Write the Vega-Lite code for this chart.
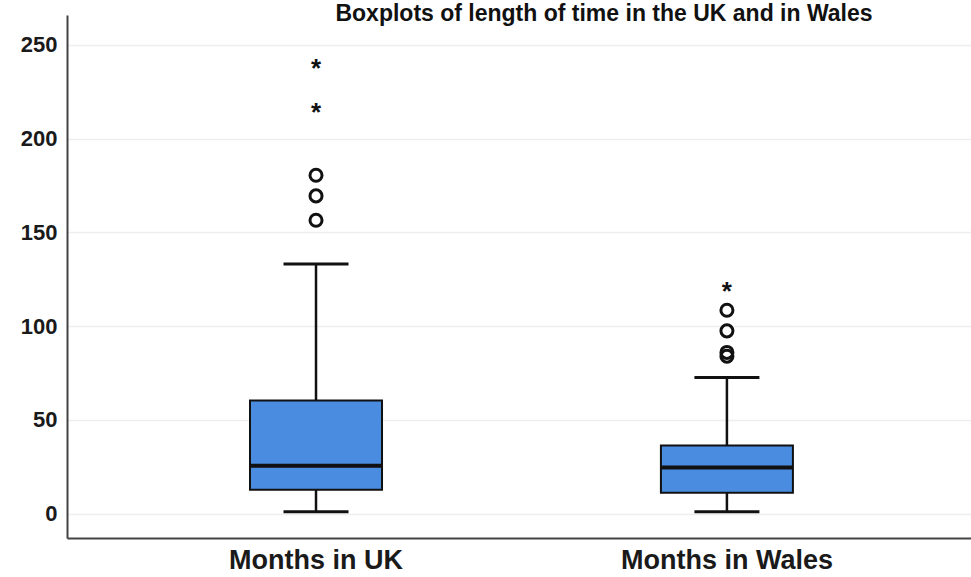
{
  "$schema": "https://vega.github.io/schema/vega-lite/v6.json",
  "width": 904,
  "height": 523,
  "autosize": {"type": "none"},
  "padding": {"left": 67, "top": 15, "right": 0, "bottom": 39},
  "background": "white",
  "title": {
    "text": "Boxplots of length of time in the UK and in Wales",
    "font": "Liberation Sans",
    "fontSize": 23,
    "fontWeight": "bold",
    "color": "#111111",
    "anchor": "middle",
    "offset": -11,
    "dx": 85
  },
  "config": {
    "view": {"stroke": null},
    "axis": {
      "labelFont": "Liberation Sans",
      "labelFontWeight": "bold",
      "labelColor": "#1a1a1a",
      "labelLimit": 0,
      "domainColor": "#444444",
      "domainWidth": 2,
      "ticks": false,
      "title": null
    }
  },
  "datasets": {
    "summary": [
      {"group": "Months in UK", "low": 1, "q1": 12.8, "median": 25.6, "q3": 60.4, "high": 133.2},
      {"group": "Months in Wales", "low": 1, "q1": 11.2, "median": 24.6, "q3": 36.3, "high": 72.6}
    ],
    "outliers": [
      {"group": "Months in UK", "value": 156.5, "kind": "outlier"},
      {"group": "Months in UK", "value": 169.5, "kind": "outlier"},
      {"group": "Months in UK", "value": 180.5, "kind": "outlier"},
      {"group": "Months in UK", "value": 217, "kind": "extreme"},
      {"group": "Months in UK", "value": 240.5, "kind": "extreme"},
      {"group": "Months in Wales", "value": 84, "kind": "outlier"},
      {"group": "Months in Wales", "value": 86, "kind": "outlier"},
      {"group": "Months in Wales", "value": 97.5, "kind": "outlier"},
      {"group": "Months in Wales", "value": 108.5, "kind": "outlier"},
      {"group": "Months in Wales", "value": 121.5, "kind": "extreme"}
    ]
  },
  "encoding": {
    "x": {
      "field": "group",
      "type": "nominal",
      "sort": ["Months in UK", "Months in Wales"],
      "scale": {"paddingInner": 0, "paddingOuter": 0.1, "align": 0.53},
      "axis": {"labelAngle": 0, "labelFontSize": 27, "labelPadding": 9, "grid": false}
    }
  },
  "layer": [
    {
      "data": {"name": "summary"},
      "mark": {"type": "rule", "stroke": "#111111", "strokeWidth": 2.5},
      "encoding": {
        "y": {
          "field": "low",
          "type": "quantitative",
          "scale": {"domain": [-13, 266], "nice": false, "zero": false},
          "axis": {
            "values": [0, 50, 100, 150, 200, 250],
            "labelFontSize": 22,
            "labelPadding": 10,
            "grid": true,
            "gridColor": "#eeeeee",
            "gridWidth": 1.5
          }
        },
        "y2": {"field": "high"}
      }
    },
    {
      "data": {"name": "summary"},
      "mark": {"type": "tick", "color": "#111111", "opacity": 1, "thickness": 3, "size": 65},
      "encoding": {"y": {"field": "low", "type": "quantitative"}}
    },
    {
      "data": {"name": "summary"},
      "mark": {"type": "tick", "color": "#111111", "opacity": 1, "thickness": 3, "size": 65},
      "encoding": {"y": {"field": "high", "type": "quantitative"}}
    },
    {
      "data": {"name": "summary"},
      "mark": {"type": "bar", "size": 132, "fill": "#4a8de0", "stroke": "#111111", "strokeWidth": 2, "opacity": 1},
      "encoding": {
        "y": {"field": "q1", "type": "quantitative"},
        "y2": {"field": "q3"}
      }
    },
    {
      "data": {"name": "summary"},
      "mark": {"type": "tick", "color": "#111111", "opacity": 1, "thickness": 4, "size": 132},
      "encoding": {"y": {"field": "median", "type": "quantitative"}}
    },
    {
      "data": {"name": "outliers"},
      "transform": [{"filter": "datum.kind === 'outlier'"}],
      "mark": {"type": "point", "shape": "circle", "filled": false, "stroke": "#111111", "strokeWidth": 3, "size": 145, "opacity": 1},
      "encoding": {"y": {"field": "value", "type": "quantitative"}}
    },
    {
      "data": {"name": "outliers"},
      "transform": [{"filter": "datum.kind === 'extreme'"}],
      "mark": {"type": "text", "text": "*", "font": "Liberation Sans", "fontSize": 26, "fontWeight": "bold", "color": "#111111", "baseline": "middle", "dy": 6},
      "encoding": {"y": {"field": "value", "type": "quantitative"}}
    }
  ]
}
